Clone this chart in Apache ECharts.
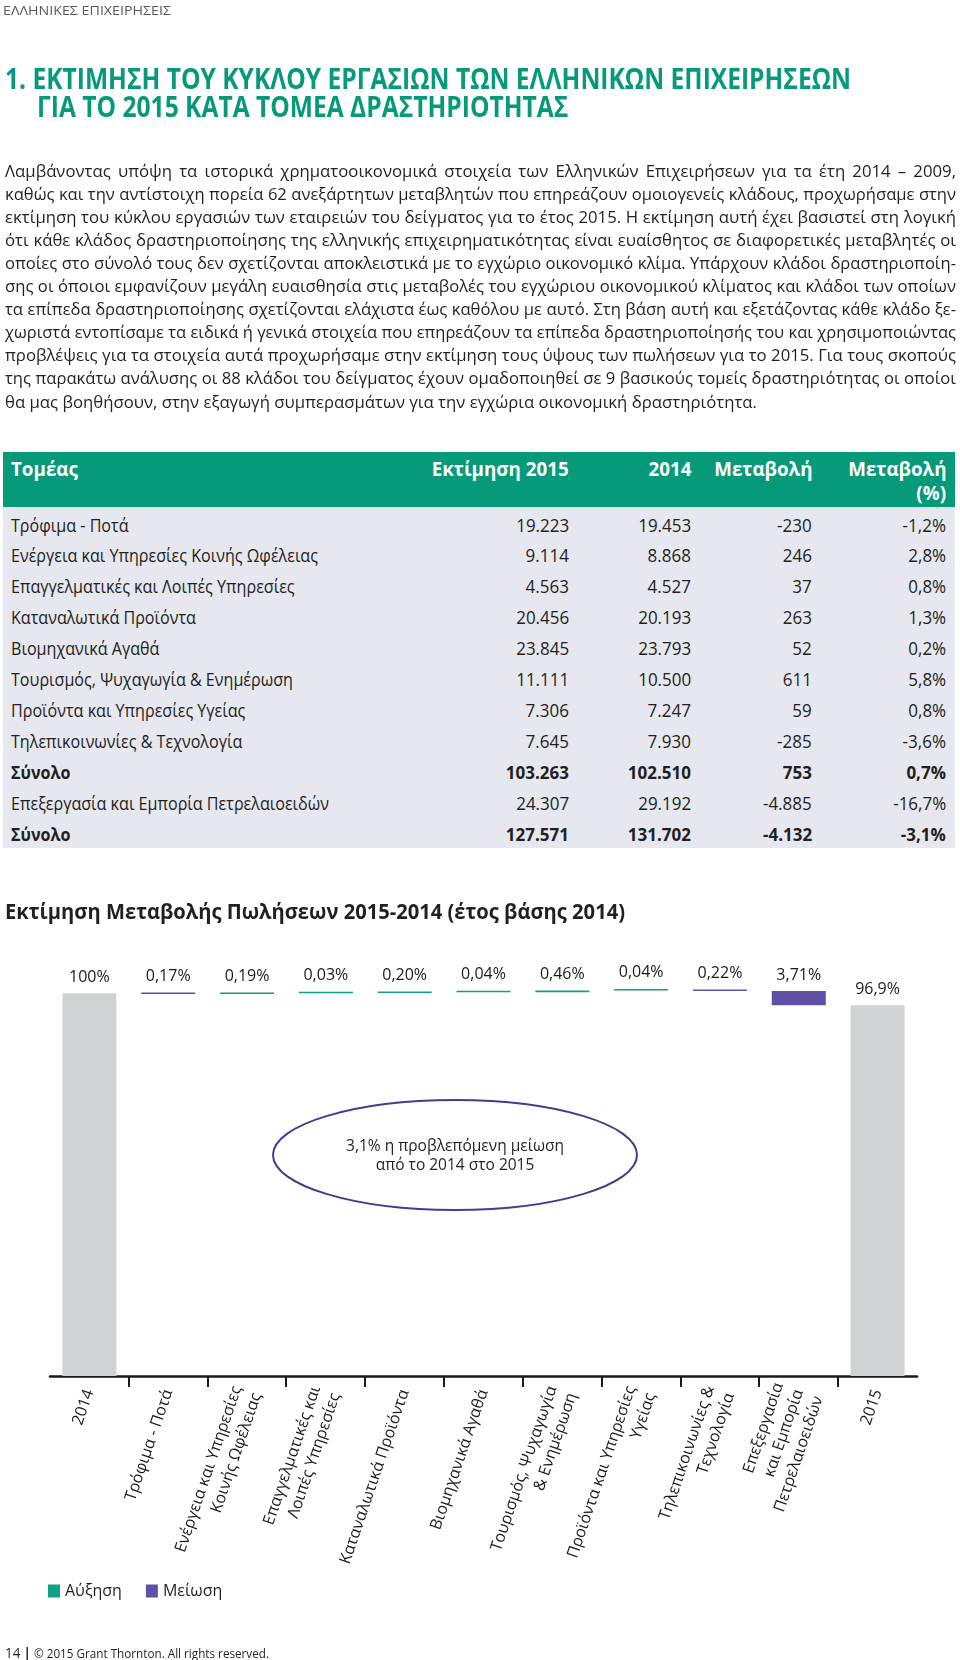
<!DOCTYPE html>
<html><head><meta charset="utf-8">
<script src="https://cdn.jsdelivr.net/npm/echarts@6/dist/echarts.min.js"></script>
<style>
html,body{margin:0;padding:0;background:#fff;}
#page{position:relative;width:960px;height:1660px;overflow:hidden;font-family:'Open Sans',sans-serif;color:#231f20;}
#chart{position:absolute;left:0;top:0;width:960px;height:1660px;z-index:0;}
.t{position:absolute;white-space:nowrap;z-index:2;}
.band{position:absolute;z-index:1;}
.pl{position:absolute;z-index:2;white-space:normal;text-align:justify;text-align-last:justify;transform-origin:0 50%;}
</style></head><body><div id="page"><div id="chart"></div></div>
<script>
// ---------------- DATA ----------------
const categories = ['2014','Τρόφιμα - Ποτά','Ενέργεια και Υπηρεσίες\nΚοινής Ωφέλειας','Επαγγελματικές και\nΛοιπές Υπηρεσίες','Καταναλωτικά Προϊόντα','Βιομηχανικά Αγαθά','Τουρισμός, Ψυχαγωγία\n& Ενημέρωση','Προϊόντα και Υπηρεσίες\nΥγείας','Τηλεπικοινωνίες &\nΤεχνολογία','Επεξεργασία\nκαι Εμπορία\nΠετρελαιοειδών','2015'];
const totalValues = [100, 96.9];
const totalLabels = ['100%', '96,9%'];
const changeValues = [-0.17, 0.19, 0.03, 0.20, 0.04, 0.46, 0.04, -0.22, -3.71];
const changeLabels = ['0,17%', '0,19%', '0,03%', '0,20%', '0,04%', '0,46%', '0,04%', '0,22%', '3,71%'];
const legendNames = ['Αύξηση', 'Μείωση'];

const sectors = ['Τρόφιμα - Ποτά','Ενέργεια και Υπηρεσίες Κοινής Ωφέλειας','Επαγγελματικές και Λοιπές Υπηρεσίες','Καταναλωτικά Προϊόντα','Βιομηχανικά Αγαθά','Τουρισμός, Ψυχαγωγία & Ενημέρωση','Προϊόντα και Υπηρεσίες Υγείας','Τηλεπικοινωνίες & Τεχνολογία','Σύνολο','Επεξεργασία και Εμπορία Πετρελαιοειδών','Σύνολο'];
const estimate2015 = [19223, 9114, 4563, 20456, 23845, 11111, 7306, 7645, 103263, 24307, 127571];
const actual2014 = [19453, 8868, 4527, 20193, 23793, 10500, 7247, 7930, 102510, 29192, 131702];
const changeAbs = [-230, 246, 37, 263, 52, 611, 59, -285, 753, -4885, -4132];
const changePct = [-1.2, 2.8, 0.8, 1.3, 0.2, 5.8, 0.8, -3.6, 0.7, -16.7, -3.1];
const boldRows = [8, 10];
const tableHeaders = ['Τομέας', 'Εκτίμηση  2015', '2014', 'Μεταβολή', 'Μεταβολή', '(%)'];

const pageHeader = 'ΕΛΛΗΝΙΚΕΣ ΕΠΙΧΕΙΡΗΣΕΙΣ';
const titleLines = ['1. ΕΚΤΙΜΗΣΗ ΤΟΥ ΚΥΚΛΟΥ ΕΡΓΑΣΙΩΝ ΤΩΝ ΕΛΛΗΝΙΚΩΝ ΕΠΙΧΕΙΡΗΣΕΩΝ', 'ΓΙΑ ΤΟ 2015 ΚΑΤΑ ΤΟΜΕΑ ΔΡΑΣΤΗΡΙΟΤΗΤΑΣ'];
const paragraphLines = [
 'Λαμβάνοντας υπόψη τα ιστορικά χρηματοοικονομικά στοιχεία των Ελληνικών Επιχειρήσεων για τα έτη 2014 – 2009,',
 'καθώς και την αντίστοιχη πορεία 62 ανεξάρτητων μεταβλητών που επηρεάζουν ομοιογενείς κλάδους, προχωρήσαμε στην',
 'εκτίμηση του κύκλου εργασιών των εταιρειών του δείγματος για το έτος 2015. Η εκτίμηση αυτή έχει βασιστεί στη λογική',
 'ότι κάθε κλάδος δραστηριοποίησης της ελληνικής επιχειρηματικότητας είναι ευαίσθητος σε διαφορετικές μεταβλητές οι',
 'οποίες στο σύνολό τους δεν σχετίζονται αποκλειστικά με το εγχώριο οικονομικό κλίμα. Υπάρχουν κλάδοι δραστηριοποίη-',
 'σης οι όποιοι εμφανίζουν μεγάλη ευαισθησία στις μεταβολές του εγχώριου οικονομικού κλίματος και κλάδοι των οποίων',
 'τα επίπεδα δραστηριοποίησης σχετίζονται ελάχιστα έως καθόλου με αυτό. Στη βάση αυτή και εξετάζοντας κάθε κλάδο ξε-',
 'χωριστά εντοπίσαμε τα ειδικά ή γενικά στοιχεία που επηρεάζουν τα επίπεδα δραστηριοποίησής του και χρησιμοποιώντας',
 'προβλέψεις για τα στοιχεία αυτά προχωρήσαμε στην εκτίμηση τους ύψους των πωλήσεων για το 2015. Για τους σκοπούς',
 'της παρακάτω ανάλυσης οι 88 κλάδοι του δείγματος έχουν ομαδοποιηθεί σε 9 βασικούς τομείς δραστηριότητας οι οποίοι',
 'θα μας βοηθήσουν, στην εξαγωγή συμπερασμάτων για την εγχώρια οικονομική δραστηριότητα.'
];
const chartTitle = 'Εκτίμηση Μεταβολής Πωλήσεων 2015-2014 (έτος βάσης 2014)';
const noteText = '3,1% η προβλεπόμενη μείωση\nαπό το 2014 στο 2015';
const footerText = '© 2015 Grant Thornton. All rights reserved.';
const pageNumber = '14';

// ---------------- HTML TEXT ----------------
const page = document.getElementById('page');
const TEAL = '#06997a';
function measure(str, font) {
  const s = document.createElement('span');
  s.style.cssText = 'position:absolute;visibility:hidden;white-space:nowrap;font:' + font;
  s.textContent = str; document.body.appendChild(s);
  const w = s.getBoundingClientRect().width; s.remove(); return w;
}
function place(str, o) {
  const el = document.createElement('div');
  el.className = 't';
  el.textContent = str;
  el.style.font = o.font;
  el.style.color = o.color || '#231f20';
  const lh = o.lh || 24;
  el.style.lineHeight = lh + 'px';
  el.style.top = (o.cy - lh / 2) + 'px';
  const k = o.k || 1;
  if (o.right != null) {
    el.style.right = (960 - o.right) + 'px';
    el.style.transformOrigin = '100% 50%';
  } else {
    el.style.left = o.left + 'px';
    el.style.transformOrigin = '0 50%';
  }
  el.style.transform = 'scaleX(' + k + ')';
  page.appendChild(el);
  return el;
}
function band(l, t, w, h, c) {
  const d = document.createElement('div'); d.className = 'band';
  Object.assign(d.style, {left: l + 'px', top: t + 'px', width: w + 'px', height: h + 'px', background: c});
  page.appendChild(d);
}
const fmtNum = v => (v < 0 ? '-' : '') + String(Math.abs(v)).replace(/\B(?=(\d{3})+(?!\d))/g, '.');
const fmtPct = v => v.toFixed(1).replace('.', ',') + '%';

// page header
{ const f = '13px "Open Sans"'; place(pageHeader, {font: f, left: 3, cy: 10, color: '#58595b', k: 168 / measure(pageHeader, f)}); }
// title
{ const f = 'bold 29px "Open Sans"'; const k = 846 / measure(titleLines[0], f);
  place(titleLines[0], {font: f, left: 5, cy: 78, color: TEAL, k, lh: 32});
  place(titleLines[1], {font: f, left: 37, cy: 106, color: TEAL, k, lh: 32}); }
// paragraph
{ const f = '17px "Open Sans"'; const W = 951;
  const k = 752 / measure(paragraphLines[paragraphLines.length - 1], f);
  paragraphLines.forEach((ln, i) => {
    const el = document.createElement('div'); el.className = 'pl';
    el.textContent = ln; el.style.font = f; el.style.lineHeight = '23px';
    const last = i === paragraphLines.length - 1;
    let ki = k;
    if (!last) { const w = measure(ln, f); ki = Math.min(k, (W - 2) / w); }
    el.style.width = (last ? 900 / ki : W / ki) + 'px';
    if (last) { el.style.textAlignLast = 'left'; el.style.textAlign = 'left'; }
    el.style.left = '5px'; el.style.top = (170 + i * 23.1 - 11.5) + 'px';
    el.style.transform = 'scaleX(' + ki + ')';
    page.appendChild(el);
  }); }
// table
band(3, 452, 952, 55, TEAL);
band(3, 507, 952, 341, '#e7e7f0');
{ const hf = 'bold 19px "Open Sans"'; const kh = 137 / measure(tableHeaders[1], hf);
  place(tableHeaders[0], {font: hf, left: 11, cy: 469, color: '#fff', k: kh});
  place(tableHeaders[1], {font: hf, right: 569, cy: 469, color: '#fff', k: kh});
  place(tableHeaders[2], {font: hf, right: 691, cy: 469, color: '#fff', k: kh});
  place(tableHeaders[3], {font: hf, right: 812, cy: 469, color: '#fff', k: kh});
  place(tableHeaders[4], {font: hf, right: 946, cy: 469, color: '#fff', k: kh});
  place(tableHeaders[5], {font: hf, right: 946, cy: 493, color: '#fff', k: kh});
  const rf = '18px "Open Sans"', bf = 'bold 18px "Open Sans"';
  const kl = 307 / measure(sectors[1], rf);
  const kn = 53 / measure('19.223', rf);
  const cols = [569, 691, 812, 946];
  sectors.forEach((s, i) => {
    const cy = 524.5 + i * 30.9;
    const f = boldRows.includes(i) ? bf : rf;
    place(s, {font: f, left: 11, cy, k: kl});
    [fmtNum(estimate2015[i]), fmtNum(actual2014[i]), fmtNum(changeAbs[i]), fmtPct(changePct[i])]
      .forEach((v, j) => place(v, {font: f, right: cols[j], cy, k: kn}));
  }); }
// chart title
{ const f = 'bold 21px "Open Sans"'; place(chartTitle, {font: f, left: 5, cy: 911, k: 620 / measure(chartTitle, f)}); }
// footer
{ const el = place('', {font: '13px "Open Sans"', left: 5, cy: 1652, lh: 16});
  el.innerHTML = '<span style="font-size:15px">' + pageNumber + '</span> <b style="font-size:15px">|</b> ' + footerText;
  const w = el.getBoundingClientRect().width; el.style.transform = 'scaleX(' + (264 / w) + ')'; }

// ---------------- CHART ----------------
const n = categories.length;
const baseData = [], totalData = [], incData = [], decData = [];
let running = totalValues[0];
for (let i = 0; i < n; i++) {
  if (i === 0 || i === n - 1) {
    baseData.push(0); totalData.push(i === 0 ? totalValues[0] : totalValues[1]);
    incData.push('-'); decData.push('-');
  } else {
    const c = changeValues[i - 1];
    totalData.push('-');
    if (c >= 0) { baseData.push(running); incData.push(c); decData.push('-'); }
    else { baseData.push(running + c); decData.push(-c); incData.push('-'); }
    running += c;
  }
}
// inner category boundaries (tick marks sit between neighbouring categories)
const boundaryData = categories.slice(1).map((c, i) => [i + 1, 0]);

const GRAY = '#d1d2d4', GREEN = '#11a083', PURPLE = '#5f50a4', INK = '#1a1a1a';
const lblFont = {fontSize: 16, color: INK, fontFamily: 'Open Sans'};
const chart = echarts.init(document.getElementById('chart'), null, {renderer: 'canvas'});
chart.setOption({
  animation: false,
  backgroundColor: 'transparent',
  grid: {left: 50, right: 43, top: 955, bottom: 284, containLabel: false},
  legend: {
    data: legendNames, left: 48, top: 1583, padding: 0, icon: 'rect',
    itemWidth: 12, itemHeight: 13, itemGap: 24,
    textStyle: {fontSize: 16, color: '#231f20', fontFamily: 'Open Sans'}
  },
  xAxis: {
    type: 'category', data: categories,
    axisLine: {lineStyle: {color: INK, width: 2.5}},
    axisTick: {show: false},
    axisLabel: {interval: 0, rotate: 71, margin: 14, fontSize: 16, lineHeight: 21, color: INK, fontFamily: 'Open Sans'}
  },
  yAxis: {type: 'value', min: 0, max: 110, show: false},
  series: [
    {type: 'bar', stack: 'w', barWidth: 54, silent: true, itemStyle: {color: 'transparent'}, data: baseData},
    {type: 'bar', stack: 'w', barWidth: 54, itemStyle: {color: GRAY}, data: totalData,
     label: {show: true, position: 'top', distance: 8, ...lblFont,
       formatter: p => totalLabels[p.dataIndex === 0 ? 0 : 1]}},
    {name: legendNames[0], type: 'bar', stack: 'w', barWidth: 54, barMinHeight: 1.5, itemStyle: {color: GREEN}, data: incData,
     label: {show: true, position: 'top', distance: 8, ...lblFont, formatter: p => changeLabels[p.dataIndex - 1]}},
    {name: legendNames[1], type: 'bar', stack: 'w', barWidth: 54, barMinHeight: 1.5, itemStyle: {color: PURPLE}, data: decData,
     label: {show: true, position: 'top', distance: 8, ...lblFont, formatter: p => changeLabels[p.dataIndex - 1]}},
    {type: 'custom', silent: true, clip: false, data: boundaryData, z: 5,
     renderItem: (params, api) => {
       const p = api.coord([api.value(0), 0]);
       const bw = api.size([1, 0])[0];
       const x = Math.round(p[0] - bw / 2);
       return {type: 'line', shape: {x1: x, y1: p[1], x2: x, y2: p[1] + 11},
               style: {stroke: INK, lineWidth: 2}};
     }}
  ],
  graphic: [
    {type: 'ellipse', shape: {cx: 455, cy: 1155, rx: 182, ry: 55}, style: {fill: 'none', stroke: '#463c8c', lineWidth: 2}, z: 10},
    {type: 'text', x: 455, y: 1156.5, style: {text: noteText, align: 'center', verticalAlign: 'middle', lineHeight: 19,
      fontSize: 15.5, fontFamily: 'Open Sans', fill: '#231f20'}, z: 11}
  ]
});
</script></body></html>
